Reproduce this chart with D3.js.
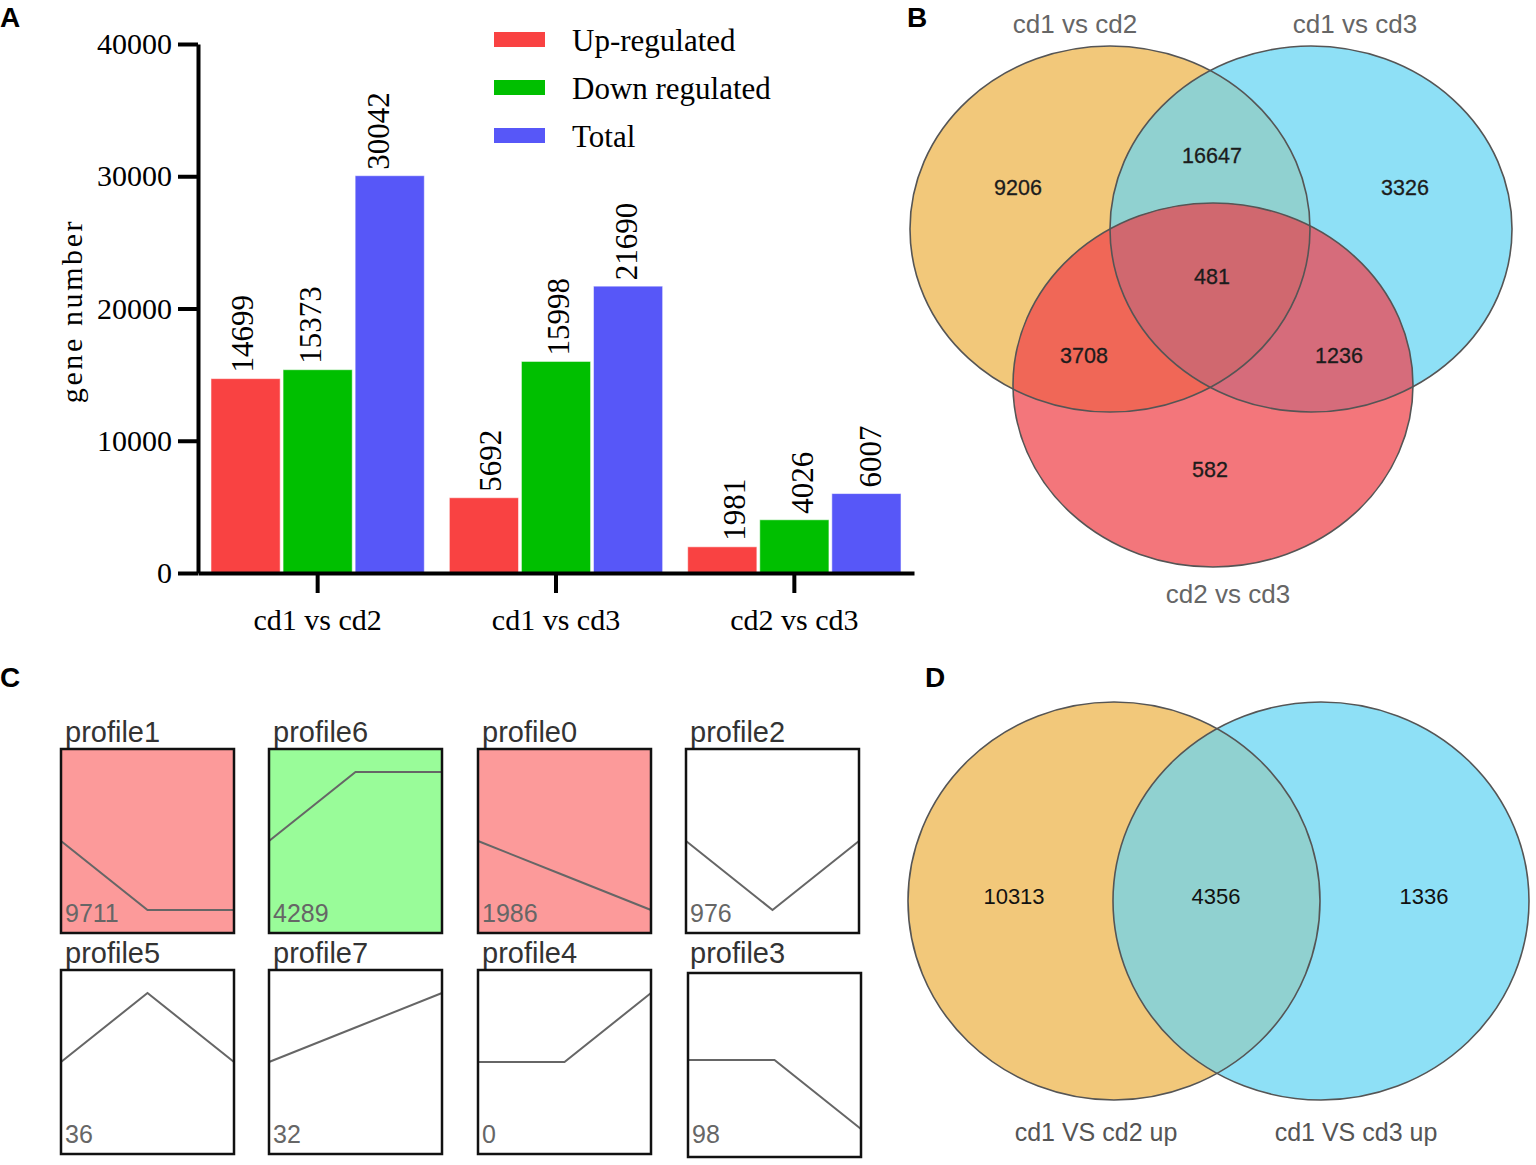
<!DOCTYPE html>
<html>
<head>
<meta charset="utf-8">
<script src="https://cdn.jsdelivr.net/npm/d3@7"></script>
<style>
  body { margin: 0; background: #fff; }
  svg { display: block; }
</style>
</head>
<body>
<div id="chart"></div>
<script>
// Panel A : nombre de gènes différentiels
const comparisons = ["cd1 vs cd2", "cd1 vs cd3", "cd2 vs cd3"];
const seriesNames = ["Up-regulated", "Down regulated", "Total"];
const upRegulated = [14699, 5692, 1981];
const downRegulated = [15373, 15998, 4026];
const totalGenes = [30042, 21690, 6007];
const yTicks = [0, 10000, 20000, 30000, 40000];

// Panel B : Venn à trois ensembles
const venn3Sets = ["cd1 vs cd2", "cd1 vs cd3", "cd2 vs cd3"];
const venn3Regions = ["A", "B", "C", "AB", "AC", "BC", "ABC"];
const venn3Counts = [9206, 3326, 582, 16647, 3708, 1236, 481];

// Panel C : profils STEM
const profileNames = ["profile1", "profile6", "profile0", "profile2", "profile5", "profile7", "profile4", "profile3"];
const profileCounts = [9711, 4289, 1986, 976, 36, 32, 0, 98];
const profileValues = [
  [0, -1, -1], [0, 1, 1], [0, -0.5, -1], [0, -1, 0],
  [0, 1, 0], [0, 0.5, 1], [0, 0, 1], [0, 0, -1]
];
const profileCluster = [1, 2, 1, 0, 0, 0, 0, 0];

// Panel D : Venn à deux ensembles
const venn2Sets = ["cd1 VS cd2 up", "cd1 VS cd3 up"];
const venn2Counts = [10313, 4356, 1336];

const width = 1536;
const height = 1165;
const serif = "'Liberation Serif', 'Times New Roman', serif";
const sans = "'Liberation Sans', Arial, sans-serif";

const svg = d3.select("#chart")
  .append("svg")
  .attr("width", width)
  .attr("height", height);

// Lettres des panneaux
[["A", 0, 27], ["B", 907, 27], ["C", 0, 687], ["D", 925, 687]].forEach(([t, x, yy]) => {
  svg.append("text")
    .attr("x", x).attr("y", yy)
    .attr("font-family", sans).attr("font-weight", "bold")
    .attr("font-size", 28).attr("fill", "#000")
    .text(t);
});

// ---------- Panel A ----------
const seriesValues = [upRegulated, downRegulated, totalGenes];
const barColors = ["#F94242", "#00BF00", "#5757F8"];

const x0 = d3.scaleBand()
  .domain(comparisons)
  .range([198, 914])
  .paddingInner(0.105)
  .paddingOuter(0.0545);

const x1 = d3.scaleBand()
  .domain(seriesNames)
  .range([0, x0.bandwidth()])
  .paddingInner(0.04);

const y = d3.scaleLinear().domain([0, 40000]).range([573, 44]);

const color = d3.scaleOrdinal().domain(seriesNames).range(barColors);

const barData = [];
comparisons.forEach((c, i) => {
  seriesNames.forEach((s, j) => {
    barData.push({ comparison: c, series: s, value: seriesValues[j][i], gi: i, si: j });
  });
});

const panelA = svg.append("g");

panelA.selectAll("rect.bar")
  .data(barData)
  .join("rect")
  .attr("class", "bar")
  .attr("x", d => x0(d.comparison) + x1(d.series))
  .attr("y", d => y(d.value))
  .attr("width", x1.bandwidth())
  .attr("height", d => y(0) - y(d.value))
  .attr("fill", d => color(d.series))
  .attr("stroke", "rgba(255,255,255,0.55)")
  .attr("stroke-width", 1);

// Étiquettes de valeurs (verticales)
const labelShift = [3, 13, 19];
panelA.selectAll("text.val")
  .data(barData)
  .join("text")
  .attr("class", "val")
  .attr("transform", d => {
    const cx = x0(d.comparison) + x1(d.series) + x1.bandwidth() / 2 + labelShift[d.gi] - (d.si - 1) * 4;
    return `translate(${cx},${y(d.value) - 6}) rotate(-90)`;
  })
  .attr("font-family", serif)
  .attr("font-size", 31)
  .attr("fill", "#000")
  .text(d => d.value);

// Axes
const yAxis = panelA.append("g")
  .attr("transform", "translate(198,0)")
  .call(d3.axisLeft(y).tickValues(yTicks).tickSize(20).tickSizeOuter(0).tickPadding(6).tickFormat(d3.format("d")));

const xAxis = panelA.append("g")
  .attr("transform", "translate(0,573)")
  .call(d3.axisBottom(x0).tickSize(20).tickSizeOuter(0).tickPadding(16));

[yAxis, xAxis].forEach(g => {
  g.select(".domain").attr("stroke", "#000").attr("stroke-width", 4);
  g.selectAll(".tick line").attr("stroke", "#000").attr("stroke-width", 4);
  g.selectAll(".tick text")
    .attr("font-family", serif)
    .attr("font-size", 30)
    .attr("fill", "#000");
});

panelA.append("text")
  .attr("transform", "translate(82,311) rotate(-90)")
  .attr("text-anchor", "middle")
  .attr("font-family", serif)
  .attr("font-size", 30)
  .attr("letter-spacing", 2.6)
  .attr("fill", "#000")
  .text("gene number");

// Légende
const legend = panelA.selectAll("g.legend")
  .data(seriesNames)
  .join("g")
  .attr("class", "legend")
  .attr("transform", (d, i) => `translate(494,${32 + i * 48})`);

legend.append("rect")
  .attr("width", 51).attr("height", 15)
  .attr("fill", d => color(d));

legend.append("text")
  .attr("x", 78).attr("y", 19)
  .attr("font-family", serif)
  .attr("font-size", 31)
  .attr("fill", "#000")
  .text(d => d);

// ---------- Panel B ----------
const ell3 = [
  { cx: 1110, cy: 229, rx: 200, ry: 183 },
  { cx: 1311, cy: 229, rx: 201, ry: 183 },
  { cx: 1213, cy: 385, rx: 200, ry: 182 }
];
const venn3Colors = {
  A: "#F2C87A", B: "#8EE0F6", C: "#F3767B",
  AB: "#90D1D0", AC: "#F06757", BC: "#D66C7B", ABC: "#D0686F"
};

const defs = svg.append("defs");
ell3.forEach((e, i) => {
  defs.append("clipPath").attr("id", "clip3-" + i)
    .append("ellipse")
    .attr("cx", e.cx).attr("cy", e.cy).attr("rx", e.rx).attr("ry", e.ry);
});

const panelB = svg.append("g");
const ellipse = (g, e, fill) => g.append("ellipse")
  .attr("cx", e.cx).attr("cy", e.cy).attr("rx", e.rx).attr("ry", e.ry)
  .attr("fill", fill);

ellipse(panelB, ell3[0], venn3Colors.A);
ellipse(panelB, ell3[1], venn3Colors.B);
ellipse(panelB, ell3[2], venn3Colors.C);
ellipse(panelB.append("g").attr("clip-path", "url(#clip3-0)"), ell3[1], venn3Colors.AB);
ellipse(panelB.append("g").attr("clip-path", "url(#clip3-0)"), ell3[2], venn3Colors.AC);
ellipse(panelB.append("g").attr("clip-path", "url(#clip3-1)"), ell3[2], venn3Colors.BC);
ellipse(panelB.append("g").attr("clip-path", "url(#clip3-0)")
  .append("g").attr("clip-path", "url(#clip3-1)"), ell3[2], venn3Colors.ABC);

panelB.selectAll("ellipse.outline")
  .data(ell3)
  .join("ellipse")
  .attr("class", "outline")
  .attr("cx", d => d.cx).attr("cy", d => d.cy)
  .attr("rx", d => d.rx).attr("ry", d => d.ry)
  .attr("fill", "none")
  .attr("stroke", "#555")
  .attr("stroke-width", 1.6);

const venn3LabelPos = {
  A: [1018, 187], B: [1405, 187], C: [1210, 469],
  AB: [1212, 155], AC: [1084, 355], BC: [1339, 355], ABC: [1212, 276]
};
panelB.selectAll("text.count")
  .data(venn3Regions)
  .join("text")
  .attr("class", "count")
  .attr("x", d => venn3LabelPos[d][0])
  .attr("y", d => venn3LabelPos[d][1])
  .attr("dy", "0.35em")
  .attr("text-anchor", "middle")
  .attr("font-family", sans)
  .attr("font-size", 21.5)
  .attr("fill", "#1c1c1c")
  .attr("stroke", "#1c1c1c")
  .attr("stroke-width", 0.3)
  .text((d, i) => venn3Counts[i]);

const venn3TitlePos = [[1075, 33], [1355, 33], [1228, 603]];
panelB.selectAll("text.setname")
  .data(venn3Sets)
  .join("text")
  .attr("class", "setname")
  .attr("x", (d, i) => venn3TitlePos[i][0])
  .attr("y", (d, i) => venn3TitlePos[i][1])
  .attr("text-anchor", "middle")
  .attr("font-family", sans)
  .attr("font-size", 26)
  .attr("fill", "#666")
  .text(d => d);

// ---------- Panel C ----------
const boxW = 173, boxH = 184;
const colX = [61, 269, 478, 686];
const rowY = [749, 970];
const clusterFill = ["#fff", "#FC9A9A", "#99FC99"];

const panelC = svg.append("g");
profileNames.forEach((name, i) => {
  const rx = colX[i % 4];
  const ry = rowY[Math.floor(i / 4)];
  // la dernière boîte est légèrement décalée dans l'original
  const shifted = name === "profile3";
  const bx = rx + (shifted ? 2 : 0);
  const by = ry + (shifted ? 3 : 0);
  const mid = ry + (shifted ? 90 : 92);
  const px = d3.scaleLinear().domain([0, 2]).range([bx, bx + boxW]);
  const py = d3.scaleLinear().domain([-1, 1]).range([mid + 69, mid - 69]);
  const g = panelC.append("g");

  g.append("text")
    .attr("x", rx + 4).attr("y", ry - 7)
    .attr("font-family", sans).attr("font-size", 29)
    .attr("fill", "#333")
    .text(name);

  g.append("rect")
    .attr("x", bx).attr("y", by)
    .attr("width", boxW).attr("height", boxH)
    .attr("fill", clusterFill[profileCluster[i]]);

  const line = d3.line().x((d, k) => px(k)).y(d => py(d));
  g.append("path")
    .attr("d", line(profileValues[i]))
    .attr("fill", "none")
    .attr("stroke", "#666")
    .attr("stroke-width", 2);

  g.append("text")
    .attr("x", bx + 4).attr("y", ry + boxH - 11)
    .attr("font-family", sans).attr("font-size", 25)
    .attr("fill", "#666")
    .text(profileCounts[i]);

  g.append("rect")
    .attr("x", bx).attr("y", by)
    .attr("width", boxW).attr("height", boxH)
    .attr("fill", "none")
    .attr("stroke", "#111")
    .attr("stroke-width", 2.5);
});

// ---------- Panel D ----------
const ell2 = [
  { cx: 1114, cy: 901, rx: 206, ry: 199 },
  { cx: 1321, cy: 901, rx: 208, ry: 199 }
];
defs.append("clipPath").attr("id", "clip2-0")
  .append("ellipse")
  .attr("cx", ell2[0].cx).attr("cy", ell2[0].cy).attr("rx", ell2[0].rx).attr("ry", ell2[0].ry);

const panelD = svg.append("g");
ellipse(panelD, ell2[0], venn3Colors.A);
ellipse(panelD, ell2[1], venn3Colors.B);
ellipse(panelD.append("g").attr("clip-path", "url(#clip2-0)"), ell2[1], venn3Colors.AB);

panelD.selectAll("ellipse.outline")
  .data(ell2)
  .join("ellipse")
  .attr("class", "outline")
  .attr("cx", d => d.cx).attr("cy", d => d.cy)
  .attr("rx", d => d.rx).attr("ry", d => d.ry)
  .attr("fill", "none")
  .attr("stroke", "#555")
  .attr("stroke-width", 1.6);

const venn2LabelX = [1014, 1216, 1424];
panelD.selectAll("text.count")
  .data(venn2Counts)
  .join("text")
  .attr("class", "count")
  .attr("x", (d, i) => venn2LabelX[i])
  .attr("y", 896)
  .attr("dy", "0.35em")
  .attr("text-anchor", "middle")
  .attr("font-family", sans)
  .attr("font-size", 22)
  .attr("fill", "#111")
  .text(d => d);

const venn2TitleX = [1096, 1356];
panelD.selectAll("text.setname")
  .data(venn2Sets)
  .join("text")
  .attr("class", "setname")
  .attr("x", (d, i) => venn2TitleX[i])
  .attr("y", 1141)
  .attr("text-anchor", "middle")
  .attr("font-family", sans)
  .attr("font-size", 25)
  .attr("fill", "#555")
  .text(d => d);
</script>
</body>
</html>
